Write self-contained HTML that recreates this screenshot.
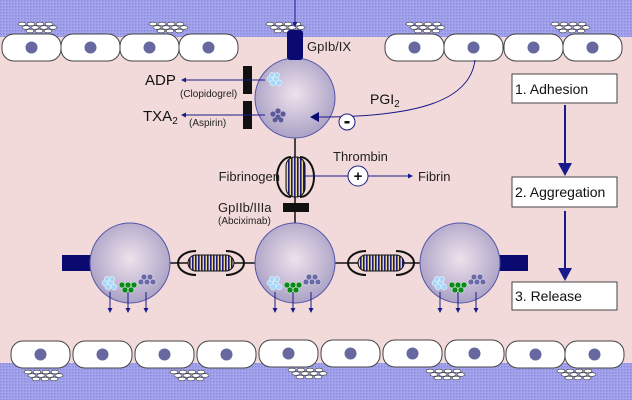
<!DOCTYPE html>
<html><head><style>body{margin:0}svg{display:block}text{font-family:"Liberation Sans",sans-serif}</style></head><body>
<svg width="632" height="400" viewBox="0 0 632 400" xmlns="http://www.w3.org/2000/svg">
<defs>
<pattern id="dots" width="3" height="3" patternUnits="userSpaceOnUse"><rect width="3" height="3" fill="#a4a4ec"/><rect width="1.5" height="1.5" fill="#8a8ae0"/></pattern>
<radialGradient id="pg" cx="0.5" cy="0.45" r="0.6"><stop offset="0" stop-color="#efe2ec"/><stop offset="1" stop-color="#a49cc2"/></radialGradient>
<pattern id="str" width="3" height="4" patternUnits="userSpaceOnUse"><rect width="3" height="4" fill="#e8d890"/><rect width="1.6" height="4" fill="#1a1a7a"/></pattern>
<marker id="ahb" markerWidth="5" markerHeight="5" refX="4" refY="2.5" orient="auto" markerUnits="userSpaceOnUse"><path d="M0,0 L5,2.5 L0,5z" fill="#1a1a8a"/></marker>
<g id="col"><g fill="#fff" stroke="#333" stroke-width="0.6"><ellipse cx="0" cy="0" rx="4" ry="1.8"/><ellipse cx="9" cy="0" rx="4" ry="1.8"/><ellipse cx="18" cy="0" rx="4" ry="1.8"/><ellipse cx="27" cy="0" rx="4" ry="1.8"/><ellipse cx="4" cy="3.5" rx="4" ry="1.8"/><ellipse cx="13" cy="3.5" rx="4" ry="1.8"/><ellipse cx="22" cy="3.5" rx="4" ry="1.8"/><ellipse cx="31" cy="3.5" rx="4" ry="1.8"/><ellipse cx="8" cy="7" rx="4" ry="1.8"/><ellipse cx="17" cy="7" rx="4" ry="1.8"/><ellipse cx="26" cy="7" rx="4" ry="1.8"/></g></g>
<g id="cell"><rect x="0" y="0" width="59" height="27" rx="12" fill="#fff" stroke="#444" stroke-width="1"/><circle cx="29.5" cy="13.5" r="6" fill="#6868a0"/></g>
<g id="gr"><g fill="#a8d8f8" stroke="#fff" stroke-width="0.5"><circle cx="0" cy="0" r="3"/><circle cx="6" cy="0" r="3"/><circle cx="3" cy="4" r="3"/><circle cx="9" cy="4" r="3"/><circle cx="2" cy="-4" r="2.6"/><circle cx="7" cy="-4" r="2.6"/></g></g>
<g id="gg"><g fill="#0a8a1a" stroke="#fff" stroke-width="0.5"><circle cx="0" cy="0" r="3"/><circle cx="6" cy="0" r="3"/><circle cx="12" cy="0" r="3"/><circle cx="3" cy="5" r="3"/><circle cx="9" cy="5" r="3"/></g></g>
<g id="gb"><g fill="#6a6aa8" stroke="#fff" stroke-width="0.5"><circle cx="0" cy="0" r="3"/><circle cx="6" cy="0" r="3"/><circle cx="3" cy="-5" r="3"/><circle cx="9" cy="-5" r="3"/><circle cx="12" cy="0" r="3"/></g></g>
</defs>
<rect width="632" height="400" fill="#f2dada"/>
<rect width="632" height="37" fill="url(#dots)"/>
<rect y="363" width="632" height="37" fill="url(#dots)"/>
<use href="#col" x="22" y="24"/><use href="#col" x="153" y="24"/><use href="#col" x="270" y="24"/><use href="#col" x="410" y="24"/><use href="#col" x="555" y="24"/>
<use href="#col" x="28" y="372"/><use href="#col" x="174" y="372"/><use href="#col" x="292" y="370"/><use href="#col" x="430" y="371"/><use href="#col" x="561" y="371"/>
<use href="#cell" x="2" y="34"/><use href="#cell" x="61" y="34"/><use href="#cell" x="120" y="34"/><use href="#cell" x="179" y="34"/>
<use href="#cell" x="385" y="34"/><use href="#cell" x="444" y="34"/><use href="#cell" x="504" y="34"/><use href="#cell" x="563" y="34"/>
<g><use href="#cell" x="11" y="341"/><use href="#cell" x="73" y="341"/><use href="#cell" x="135" y="341"/><use href="#cell" x="197" y="341"/><use href="#cell" x="259" y="340"/><use href="#cell" x="321" y="340"/><use href="#cell" x="383" y="340"/><use href="#cell" x="445" y="340"/><use href="#cell" x="506" y="341"/><use href="#cell" x="565" y="341"/></g>
<line x1="295" y1="0" x2="295" y2="26" stroke="#1a1a8a" stroke-width="1" marker-end="url(#ahb)"/>
<line x1="295" y1="135" x2="295" y2="265" stroke="#111" stroke-width="1.5"/>
<ellipse cx="295" cy="98" rx="40" ry="40" fill="url(#pg)" stroke="#5555aa" stroke-width="1"/>
<rect x="287" y="30" width="16" height="30" rx="3" fill="#0a0a70"/>
<text x="307" y="51" font-size="13" fill="#222">GpIb/IX</text>
<use href="#gr" x="270" y="79"/>
<g fill="#5a5a98"><circle cx="273" cy="114" r="2.6"/><circle cx="278" cy="111" r="2.6"/><circle cx="278" cy="117" r="2.6"/><circle cx="283" cy="114" r="2.6"/><circle cx="275" cy="120" r="2.4"/><circle cx="281" cy="120" r="2.4"/></g>
<rect x="243" y="66" width="9" height="28" fill="#111"/><rect x="243" y="101" width="9" height="28" fill="#111"/>
<line x1="265" y1="80" x2="182" y2="80" stroke="#1a1a8a" stroke-width="1" marker-end="url(#ahb)"/>
<line x1="265" y1="115" x2="182" y2="115" stroke="#1a1a8a" stroke-width="1" marker-end="url(#ahb)"/>
<text x="145" y="85" font-size="15" fill="#111">ADP</text>
<text x="180" y="97" font-size="10" fill="#222">(Clopidogrel)</text>
<text x="143" y="121" font-size="15" fill="#111">TXA<tspan font-size="10" dy="3">2</tspan></text>
<text x="189" y="126" font-size="10" fill="#222">(Aspirin)</text>
<path d="M475,60 C470,100 420,117 318,117" fill="none" stroke="#1a1a8a" stroke-width="1"/>
<path d="M310,117 L319,112 L319,122z" fill="#0a0a70"/>
<text x="370" y="104" font-size="14" fill="#111">PGI<tspan font-size="10" dy="3">2</tspan></text>
<circle cx="347" cy="122" r="8" fill="#fff" stroke="#1a1a8a"/><rect x="344.5" y="121" width="5" height="2.5" fill="#111"/>
<rect x="286" y="157" width="19" height="40" rx="9" fill="url(#str)" stroke="#111"/>
<path d="M291,157 A14,20 0 0 0 291,197 M300,157 A14,20 0 0 1 300,197" fill="none" stroke="#111" stroke-width="2"/>
<text x="280" y="181" font-size="13" fill="#222" text-anchor="end">Fibrinogen</text>
<line x1="305" y1="176" x2="348" y2="176" stroke="#1a1a8a"/>
<circle cx="358" cy="176" r="10" fill="#fff" stroke="#1a1a8a"/><text x="358" y="181" font-size="15" font-weight="bold" text-anchor="middle" fill="#111">+</text>
<line x1="368" y1="176" x2="412" y2="176" stroke="#1a1a8a" marker-end="url(#ahb)"/>
<text x="333" y="161" font-size="13" fill="#222">Thrombin</text>
<text x="418" y="181" font-size="13" fill="#222">Fibrin</text>
<rect x="283" y="203" width="26" height="9" fill="#111"/>
<text x="218" y="212" font-size="13" fill="#222">GpIIb/IIIa</text>
<text x="218" y="224" font-size="10" fill="#222">(Abciximab)</text>
<line x1="165" y1="263" x2="260" y2="263" stroke="#111" stroke-width="1.5"/>
<line x1="330" y1="263" x2="425" y2="263" stroke="#111" stroke-width="1.5"/>
<rect x="188" y="255" width="46" height="16" rx="8" fill="url(#str)" stroke="#111"/>
<path d="M196,251 A18,12 0 0 0 196,275 M226,251 A18,12 0 0 1 226,275" fill="none" stroke="#111" stroke-width="2"/>
<rect x="358" y="255" width="46" height="16" rx="8" fill="url(#str)" stroke="#111"/>
<path d="M366,251 A18,12 0 0 0 366,275 M396,251 A18,12 0 0 1 396,275" fill="none" stroke="#111" stroke-width="2"/>
<rect x="62" y="255" width="30" height="16" fill="#0a0a70"/>
<rect x="498" y="255" width="30" height="16" fill="#0a0a70"/>
<g id="p2">
<circle cx="130" cy="263" r="40" fill="url(#pg)" stroke="#5555aa"/>
<use href="#gr" x="105" y="283"/><use href="#gg" x="122" y="285"/><use href="#gb" x="141" y="282"/>
<line x1="110" y1="292" x2="110" y2="312" stroke="#1a1a8a" marker-end="url(#ahb)"/>
<line x1="128" y1="292" x2="128" y2="312" stroke="#1a1a8a" marker-end="url(#ahb)"/>
<line x1="146" y1="292" x2="146" y2="312" stroke="#1a1a8a" marker-end="url(#ahb)"/>
</g>
<use href="#p2" x="165"/><use href="#p2" x="330"/>
<g font-size="14" fill="#111">
<rect x="512" y="74" width="105" height="29" fill="#fff" stroke="#444"/><text x="515" y="94">1. Adhesion</text>
<rect x="512" y="177" width="105" height="30" fill="#fff" stroke="#444"/><text x="515" y="197">2. Aggregation</text>
<rect x="512" y="282" width="105" height="28" fill="#fff" stroke="#444"/><text x="515" y="301">3. Release</text>
</g>
<line x1="565" y1="105" x2="565" y2="165" stroke="#1a1a8a" stroke-width="2"/><path d="M558,163 L572,163 L565,176z" fill="#1a1a8a"/>
<line x1="565" y1="211" x2="565" y2="270" stroke="#1a1a8a" stroke-width="2"/><path d="M558,268 L572,268 L565,281z" fill="#1a1a8a"/>
</svg>
</body></html>
